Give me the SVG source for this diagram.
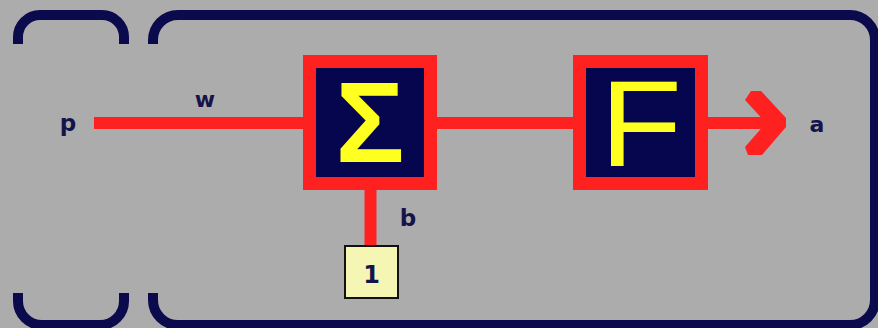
<svg xmlns="http://www.w3.org/2000/svg" width="878" height="328" viewBox="0 0 878 328">
<style>
.frame{fill:none;stroke:#0a0a4c;stroke-width:10}
.wire{fill:none;stroke:#ff2020;stroke-width:12}
.box{fill:#06064e;stroke:#ff2020;stroke-width:13}
.sym{font-family:"Liberation Sans",Arial,sans-serif;fill:#ffff20;text-anchor:middle}
.lbl{font-family:"DejaVu Sans","Liberation Sans",sans-serif;font-weight:bold;fill:#14144a;text-anchor:middle}
</style>
<rect width="878" height="328" fill="#acacac"/>
<g id="frame-input">
<path class="frame" d="M18,44 V37 A22,22 0 0 1 40,15 H102 A22,22 0 0 1 124,37 V44"/>
<path class="frame" d="M18,293 V301 A24,24 0 0 0 42,325 H100 A24,24 0 0 0 124,301 V293"/>
</g>
<g id="frame-neuron">
<path class="frame" d="M153,44 V40 A25,25 0 0 1 178,15 H850 A25,25 0 0 1 875,40 V300 A25,25 0 0 1 850,325 H178 A25,25 0 0 1 153,300 V293"/>
</g>
<g id="connectors">
<line class="wire" x1="94" y1="123" x2="304" y2="123"/>
<line class="wire" x1="436" y1="123" x2="574" y2="123"/>
<line class="wire" x1="707" y1="123" x2="770" y2="123"/>
<polygon points="745,100 751,91 761,91 786,118 786,127 762,155 748,155 745,147 766,123" fill="#ff2020"/>
<line class="wire" x1="370.5" y1="189" x2="370.5" y2="246"/>
</g>
<g id="node-sum">
<rect class="box" x="309.5" y="61.5" width="121" height="122"/>
<text class="sym" x="370" y="162" font-size="115" font-weight="bold">Σ</text>
</g>
<g id="node-f">
<rect class="box" x="579.5" y="61.5" width="122" height="122"/>
<text class="sym" x="641" y="166" font-size="122" transform="translate(641 0) scale(1.1 1) translate(-641 0)">F</text>
</g>
<g id="node-one">
<rect x="345" y="246" width="53" height="52" fill="#f6f6b4" stroke="#111" stroke-width="2"/>
<text class="lbl" x="371.5" y="283" font-size="24">1</text>
</g>
<g id="labels">
<text class="lbl" x="68" y="131" font-size="23">p</text>
<text class="lbl" x="205" y="107" font-size="22">w</text>
<text class="lbl" x="408" y="226" font-size="23">b</text>
<text class="lbl" x="817" y="132" font-size="22">a</text>
</g>
</svg>
